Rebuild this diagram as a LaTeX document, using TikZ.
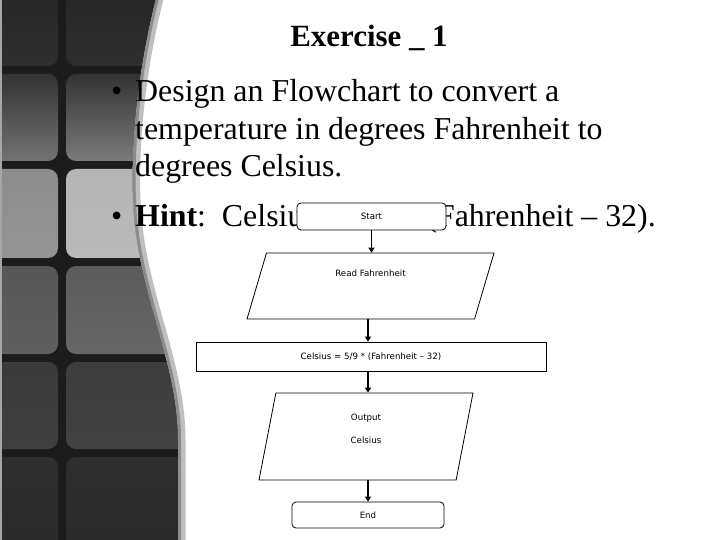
\documentclass[tikz,border=0pt]{standalone}
\usepackage{fontspec}
\setmainfont{Liberation Serif}
\newfontfamily\flowfont{DejaVu Sans}
\usetikzlibrary{arrows.meta}
\usetikzlibrary{shapes.geometric}

\definecolor{panelbg}{HTML}{1C1C1C}

% right edge of the dark side panel
\newcommand{\paneledge}{(157,-5) .. controls (145,40) and (130,120) .. (133,200) .. controls (136,290) and (178,360) .. (178,440) -- (178,545)}

\begin{document}
\begin{tikzpicture}[
        x=1bp, y=-1bp,
        bodytxt/.style={inner sep=0pt, font=\fontsize{32}{38}\selectfont},
        titletxt/.style={inner sep=0pt, font=\fontsize{31}{36}\selectfont\bfseries},
        flowtxt/.style={font=\flowfont\fontsize{8.7}{10.4}\selectfont},
        term/.style={flowtxt, draw, line width=0.8bp, rounded corners=4bp, fill=white,
            minimum width=149bp, minimum height=27bp, inner sep=2bp},
        procbox/.style={flowtxt, draw, line width=0.8bp, fill=white,
            minimum width=350bp, minimum height=29bp, inner sep=2bp},
        iobox/.style={flowtxt, draw, line width=0.8bp, fill=white, trapezium,
            trapezium stretches body=true, inner sep=2bp},
        flow/.style={line width=1.8bp, -{Triangle[length=5bp,width=6bp]}}
    ]

        % Fondo
        \useasboundingbox (0,0) rectangle (720,540);
        \fill[white] (0,0) rectangle (720,540);

        % Panel lateral con baldosas
        \begin{scope}
            \clip (0,-5) -- \paneledge -- (0,545) -- cycle;
            \fill[panelbg] (0,0) rectangle (240,540);
            \foreach \ya/\yb/\lt/\lb/\rt/\rb in {
                -10/66/black!85/black!82/black!85/black!82,
                74/161/black!80/black!55/black!80/black!52,
                169/258/black!45/black!42/black!29/black!27,
                266/354/black!66/black!63/black!64/black!60,
                362/449/black!77/black!75/black!76/black!74,
                457/560/black!82/black!84/black!82/black!84}
            {
                \shade[rounded corners=10bp, top color=\lt, bottom color=\lb] (-10,\ya) rectangle (58,\yb);
                \shade[rounded corners=10bp, top color=\rt, bottom color=\rb] (66,\ya) rectangle (240,\yb);
            }
        \end{scope}
        \draw[line width=7bp, black!25, xshift=4bp] \paneledge;
        \draw[line width=3bp, black!45, xshift=1.5bp] \paneledge;
        \fill[black!35] (0,0) rectangle (1.5,540);

        % Titulo y texto
        \node[titletxt, anchor=base] (title) at (369,47) {Exercise \_ 1};

        \node[bodytxt, anchor=base west] (dot1) at (111,102) {•};
        \node[bodytxt, anchor=base west] (line1) at (135,102) {Design an Flowchart to convert a};
        \node[bodytxt, anchor=base west] (line2) at (135,140) {temperature in degrees Fahrenheit to};
        \node[bodytxt, anchor=base west] (line3) at (135,177) {degrees Celsius.};
        \node[bodytxt, anchor=base west] (dot2) at (111,226.5) {•};
        \node[bodytxt, anchor=base west] (hint) at (135,226.5) {\textbf{Hint}:\ \ Celsius = 5/9 *\hspace{4bp} (Fahrenheit – 32).};

        % Diagrama de flujo
        \node[term] (start) at (371.5,216.5) {Start};
        \node[iobox, minimum width=247bp, minimum height=66bp,
            trapezium left angle=62, trapezium right angle=118,
            text depth=26bp] (read) at (370.5,286) {Read Fahrenheit};
        \node[procbox] (calc) at (371,356.5) {Celsius = 5/9 * (Fahrenheit – 32)};
        \node[iobox, minimum width=214bp, minimum height=87bp,
            trapezium left angle=71, trapezium right angle=109,
            text depth=15.6bp, align=center] (out) at (366,436.5) {Output\\[12.6bp]Celsius};
        \node[term, minimum width=152bp, minimum height=26bp] (end) at (368,515) {End};

        % Flechas
        \draw[flow] (start) -- (start |- read.north);
        \draw[flow] (end |- read.south) -- (end |- calc.north);
        \draw[flow] (end |- calc.south) -- (end |- out.north);
        \draw[flow] (end |- out.south) -- (end);

    \end{tikzpicture}
\end{document}
